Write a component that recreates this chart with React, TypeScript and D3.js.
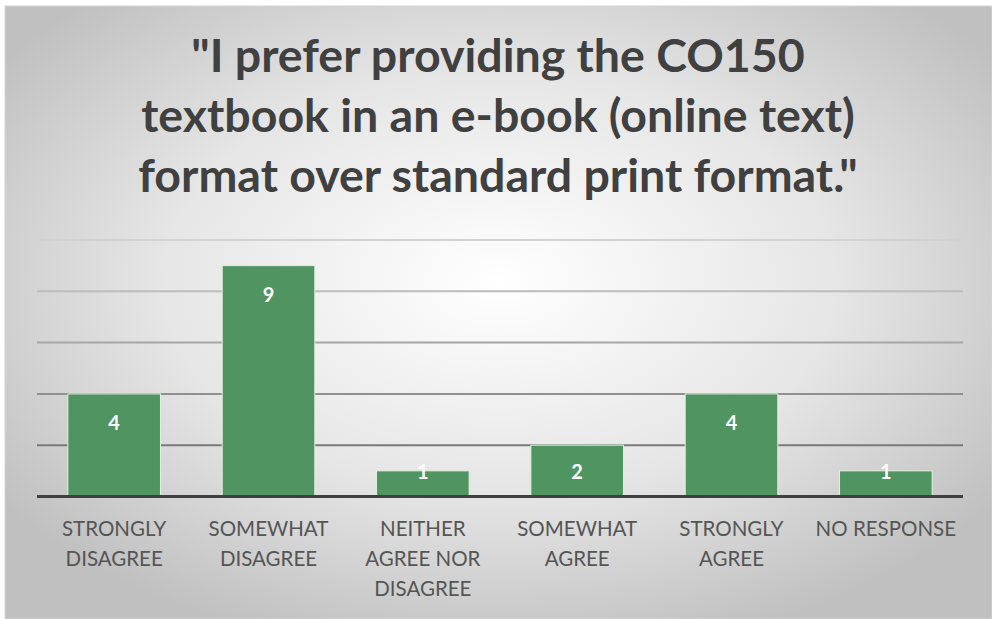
import React from "react";
import * as d3 from "d3";

const categories: string[][] = [
  ["STRONGLY", "DISAGREE"],
  ["SOMEWHAT", "DISAGREE"],
  ["NEITHER", "AGREE NOR", "DISAGREE"],
  ["SOMEWHAT", "AGREE"],
  ["STRONGLY", "AGREE"],
  ["NO RESPONSE"],
];
const values: number[] = [4, 9, 1, 2, 4, 1];
const gridTicks: number[] = [0, 2, 4, 6, 8, 10];
const titleLines: string[] = [
  "\"I prefer providing the CO150",
  "textbook in an e-book (online text)",
  "format over standard print format.\"",
];

const W = 992;
const H = 619;
const plot = { left: 37, right: 963, top: 240, bottom: 496.5 };

export default function App() {
  const x = d3
    .scaleBand<number>()
    .domain(d3.range(values.length))
    .range([plot.left, plot.right])
    .paddingInner(0.4)
    .paddingOuter(0.2);
  const y = d3.scaleLinear().domain([0, 10]).range([plot.bottom, plot.top]);
  const gridColor = d3.scaleLinear<string>().domain([10, 2]).range(["#d2d2d2", "#7a7a7a"]);

  return (
    <svg
      width={W}
      height={H}
      style={{ position: "absolute", left: 0, top: 0, display: "block" }}
      fontFamily="Lato, 'Open Sans', sans-serif"
    >
      <defs>
        <radialGradient id="bg" cx="50%" cy="45%" r="62%">
          <stop offset="0%" stopColor="#ffffff" />
          <stop offset="55%" stopColor="#e6e6e6" />
          <stop offset="100%" stopColor="#c0c0c0" />
        </radialGradient>
      </defs>
      <rect x={0} y={0} width={W} height={H} fill="#ffffff" />
      <rect x={5} y={6} width={W - 5} height={H - 6} fill="url(#bg)" stroke="#d4d4d4" strokeWidth={1} />

      {titleLines.map((t, i) => (
        <text
          key={i}
          x={498}
          y={72 + i * 60}
          textAnchor="middle"
          fontSize={46.5}
          fontWeight={700}
          fill="#404040"
        >
          {t}
        </text>
      ))}

      {gridTicks
        .filter((t) => t > 0)
        .map((t) => (
          <line
            key={t}
            x1={plot.left}
            x2={plot.right}
            y1={y(t)}
            y2={y(t)}
            stroke={gridColor(t)}
            strokeWidth={2}
          />
        ))}

      {values.map((v, i) => (
        <rect
          key={i}
          x={x(i)}
          y={y(v)}
          width={x.bandwidth()}
          height={y(0) - y(v)}
          fill="#4f9461"
          stroke="#dff0dc"
          strokeWidth={1}
        />
      ))}

      <line x1={plot.left} x2={plot.right} y1={y(0)} y2={y(0)} stroke="#3f3f3f" strokeWidth={3} />

      {values.map((v, i) => {
        const cy = Math.min(y(v) + 29, y(0) - 25);
        return (
          <text
            key={i}
            x={(x(i) as number) + x.bandwidth() / 2}
            y={cy}
            dy="0.36em"
            textAnchor="middle"
            fontSize={20}
            fontWeight={700}
            fill="#ffffff"
          >
            {v}
          </text>
        );
      })}

      {categories.map((lines, i) => (
        <text
          key={i}
          x={(x(i) as number) + x.bandwidth() / 2}
          y={536}
          textAnchor="middle"
          fontSize={20.5}
          fill="#555555"
        >
          {lines.map((l, j) => (
            <tspan key={j} x={(x(i) as number) + x.bandwidth() / 2} dy={j === 0 ? 0 : 30}>
              {l}
            </tspan>
          ))}
        </text>
      ))}
    </svg>
  );
}
